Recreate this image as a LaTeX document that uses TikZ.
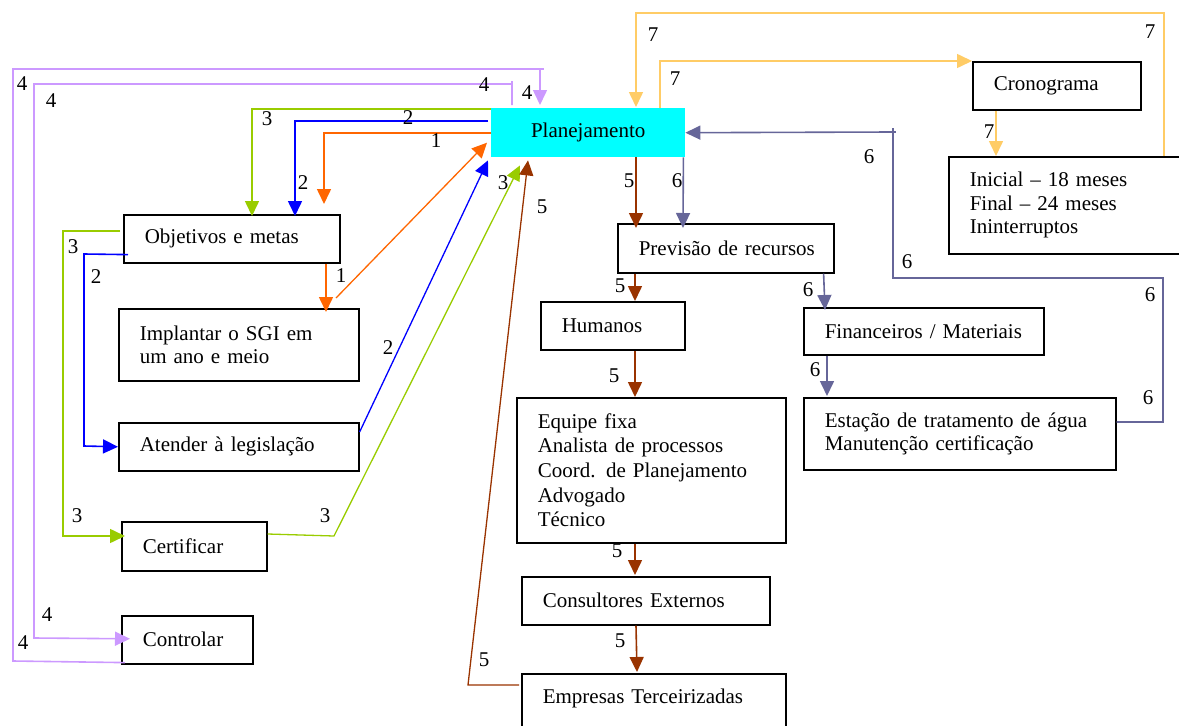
\documentclass[tikz,border=0pt]{standalone}
\usepackage{fontspec}
\setmainfont{Liberation Serif}
\usetikzlibrary{arrows.meta,calc}

\definecolor{cyanfill}{HTML}{00FFFF}
\definecolor{orng}{HTML}{FF6600}
\definecolor{blu}{HTML}{0000FF}
\definecolor{grn}{HTML}{99CC00}
\definecolor{lil}{HTML}{CC99FF}
\definecolor{brn}{HTML}{993300}
\definecolor{slt}{HTML}{666699}
\definecolor{ylw}{HTML}{FFCC66}

\begin{document}
\begin{tikzpicture}[x=1pt,y=-1pt,
  every node/.style={font=\fontsize{21pt}{23.5pt}\selectfont},
  bx/.style={draw, line width=1.6pt, rectangle, anchor=north west,
    inner xsep=21pt, inner ysep=2pt, align=left},
  arr/.style={-{Triangle[length=15pt,width=14pt]}},
  ln/.style={line width=1.6pt},
  dg/.style={line width=1.3pt},
  num/.style={inner sep=0pt}
]
\useasboundingbox (0,0) rectangle (1179,726);

% ---------- boxes ----------
\node[fill=cyanfill, minimum width=194pt, minimum height=49pt, anchor=north west, inner sep=0pt] (plan) at (491,108) {Planejamento};

\node[bx, minimum width=216pt, minimum height=48pt, text width=174pt] (obj) at (123,214) {\mbox{Objetivos e metas}};
\node[bx, minimum width=240pt, minimum height=72pt, text width=198pt] (impl) at (118,308) {\mbox{Implantar o SGI em}\\\mbox{um ano e meio}};
\node[bx, minimum width=240pt, minimum height=48pt, text width=198pt] (aten) at (118,422) {\mbox{Atender à legislação}};
\node[bx, minimum width=145pt, minimum height=49pt, text width=103pt] (cert) at (121,521) {\mbox{Certificar}};
\node[bx, minimum width=131pt, minimum height=48pt, text width=89pt] (ctrl) at (121,615) {\mbox{Controlar}};

\node[bx, minimum width=216pt, minimum height=49pt, text width=174pt] (prev) at (617,223) {\mbox{Previsão de recursos}};
\node[bx, minimum width=144pt, minimum height=48pt, text width=102pt] (hum) at (540,301) {\mbox{Humanos}};
\node[bx, minimum width=269pt, minimum height=145pt, text width=227pt,
  font=\fontsize{21pt}{24.7pt}\selectfont] (equ) at (516,397)
  {\mbox{Equipe fixa}\\\mbox{Analista de processos}\\\mbox{Coord. de Planejamento}\\\mbox{Advogado}\\\mbox{Técnico}};
\node[bx, minimum width=248pt, minimum height=48pt, text width=206pt] (cons) at (521,576) {\mbox{Consultores Externos}};
\node[bx, minimum width=264pt, text width=222pt, inner ysep=8pt,
  text height=22pt, text depth=40pt] (emp) at (521,673) {\mbox{Empresas Terceirizadas}};

\node[bx, minimum width=240pt, minimum height=47pt, text width=198pt] (fin) at (803,307) {\mbox{Financeiros / Materiais}};
\node[bx, minimum width=312pt, minimum height=72pt, text width=270pt] (est) at (803,397) {\mbox{Estação de tratamento de água}\\\mbox{Manutenção certificação}};

\node[bx, minimum width=168pt, minimum height=48pt, text width=126pt] (cron) at (972,61) {\mbox{Cronograma}};
\node[bx, minimum width=252pt, minimum height=97pt, text width=210pt] (ini) at (948,156) {\mbox{Inicial – 18 meses}\\\mbox{Final – 24 meses}\\\mbox{Ininterruptos}};

% ---------- 1 : orange ----------
\draw[ln, orng, arr] (plan.west) -| (324,204);
\draw[ln, orng, arr] ($(obj.south west)+(203,0)$) -- ($(impl.north west)+(208,4)$);
\draw[dg, orng, arr] (336,298) -- ($(plan.west)+(-4,10)$);

% ---------- 2 : blue ----------
\draw[ln, blu, arr] ($(plan.west)+(-3,-11.5)$) -| ($(obj.north west)+(172,2)$);
\draw[ln, blu, arr] ($(obj.south west)+(5,-9)$) -- (84,254) -- (84,446) -- (aten.west);
\draw[dg, blu, arr] ($(aten.north east)+(0,10)$) -- ($(plan.south west)+(-3,3)$);

% ---------- 3 : green ----------
\draw[ln, grn, arr] ($(plan.north west)+(0,1)$) -| ($(obj.north west)+(129,2)$);
\draw[ln, grn, arr] ($(obj.north west)+(-3,17)$) -- (63,231) -- (63,536) -- ($(cert.north west)+(4,15)$);
\draw[dg, grn, arr] ($(cert.north east)+(0,13)$) -- (334,536) -- ($(plan.south west)+(29,8)$);

% ---------- 4 : lilac ----------
\draw[ln, lil, arr] ($(ctrl.south west)+(4,-2)$) -- (13,661) -- (13,69) -- (540,69) -- ($(plan.north west)+(49,-3)$);
\draw[ln, lil] (540,69) -- (544,69);
\draw[ln, lil, arr] ($(plan.north west)+(21,-3)$) -- (512,84) -- (34,84) -- (34,638) -- ($(ctrl.west)+(9,-1)$);
\draw[ln, lil] (512,84) -- (512,81);

% ---------- 5 : brown ----------
\draw[ln, brn, arr] ($(plan.south west)+(145,0)$) -- ($(prev.north west)+(19,5)$);
\draw[ln, brn, arr] ($(prev.south west)+(18,0)$) -- ($(hum.north west)+(95,0)$);
\draw[ln, brn, arr] ($(hum.south west)+(95,0)$) -- ($(equ.north west)+(119,0)$);
\draw[ln, brn, arr] ($(equ.south west)+(119,0)$) -- ($(cons.north west)+(114,-1)$);
\draw[ln, brn, arr] ($(cons.south west)+(115,0)$) -- ($(emp.north west)+(116,-1)$);
\draw[dg, brn, arr] ($(emp.north west)+(-2,12)$) -- (468,685) -- ($(plan.south west)+(37,3)$);

% ---------- 6 : slate ----------
\draw[ln, slt, arr] ($(plan.south east)+(-2,0)$) -- ($(prev.north west)+(66,5)$);
\draw[ln, slt, arr] ($(prev.south east)+(-11,0)$) -- ($(fin.north west)+(22,3)$);
\draw[ln, slt, arr] ($(fin.south west)+(24,0)$) -- ($(est.north west)+(24,-1)$);
\draw[ln, slt, arr] ($(est.north east)+(0,25)$) -- (1163,422) -- (1163,278) -- (893,278) -- (893,132) -- (plan.east);
\draw[ln, slt] (893,132) -- (893,128) (893,132) -- (896,132);

% ---------- 7 : yellow ----------
\draw[ln, ylw, arr] ($(plan.north west)+(169,0)$) -- (660,61) -- (cron.north west);
\draw[ln, ylw, arr] ($(cron.south west)+(24,0)$) -- ($(ini.north west)+(48,0)$);
\draw[ln, ylw, arr] ($(ini.north west)+(216,0)$) -- (1164,13) -- (636,13) -- ($(plan.north west)+(145,-1)$);

% ---------- step numbers ----------
\node[num] (n1a) at (436,141) {1};
\node[num] (n1b) at (341,276) {1};
\node[num] (n2a) at (408,118) {2};
\node[num] (n2b) at (303,183) {2};
\node[num] (n2c) at (96,277) {2};
\node[num] (n2d) at (388,348) {2};
\node[num] (n3a) at (267,119) {3};
\node[num] (n3b) at (503,183) {3};
\node[num] (n3c) at (73,247) {3};
\node[num] (n3d) at (77,516) {3};
\node[num] (n3e) at (325,516) {3};
\node[num] (n4a) at (22,84) {4};
\node[num] (n4b) at (51,101) {4};
\node[num] (n4c) at (484,85) {4};
\node[num] (n4d) at (527,93) {4};
\node[num] (n4e) at (47,615) {4};
\node[num] (n4f) at (23,643) {4};
\node[num] (n5a) at (542,207) {5};
\node[num] (n5b) at (629,181) {5};
\node[num] (n5c) at (620,286) {5};
\node[num] (n5d) at (614,376) {5};
\node[num] (n5e) at (617,551) {5};
\node[num] (n5f) at (620,641) {5};
\node[num] (n5g) at (484,660) {5};
\node[num] (n6a) at (677,181) {6};
\node[num] (n6b) at (869,157) {6};
\node[num] (n6c) at (907,262) {6};
\node[num] (n6d) at (808,290) {6};
\node[num] (n6e) at (815,370) {6};
\node[num] (n6f) at (1150,295) {6};
\node[num] (n6g) at (1148,398) {6};
\node[num] (n7a) at (653,35) {7};
\node[num] (n7b) at (1150,32) {7};
\node[num] (n7c) at (675,79) {7};
\node[num] (n7d) at (989,132) {7};
\end{tikzpicture}
\end{document}
